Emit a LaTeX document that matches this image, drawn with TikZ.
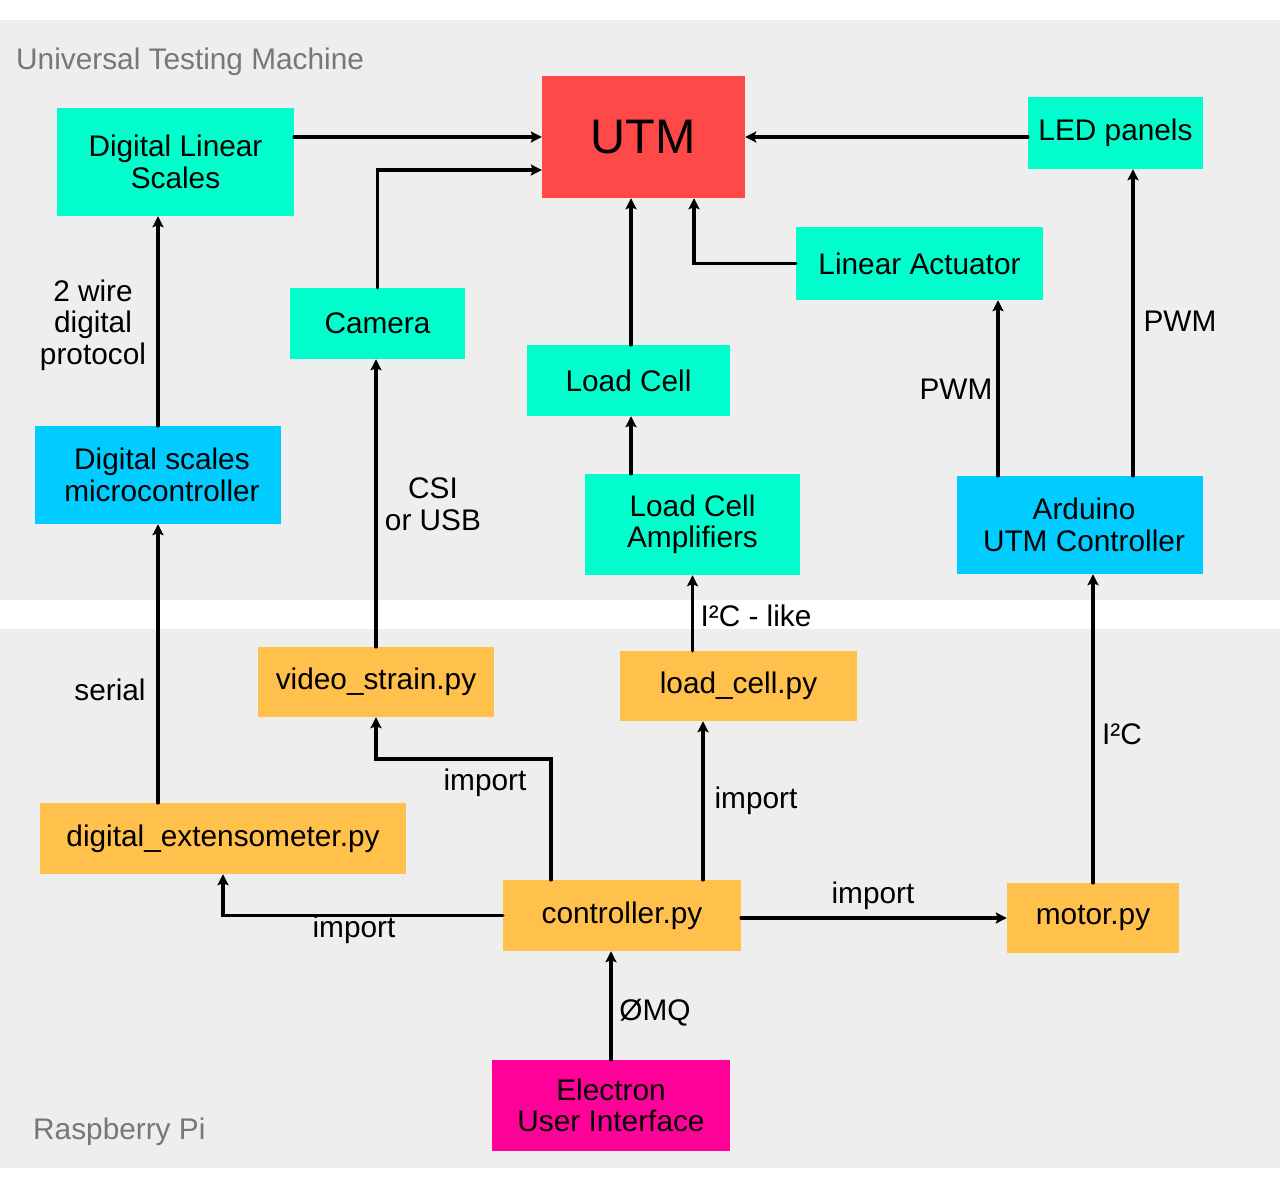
\documentclass[tikz,border=0pt]{standalone}
\usepackage{fontspec}
\setmainfont{Liberation Sans}
\usetikzlibrary{arrows.meta}
\definecolor{panel}{HTML}{EEEEEE}
\definecolor{cgreen}{HTML}{00FFCC}
\definecolor{cblue}{HTML}{00CCFF}
\definecolor{corange}{HTML}{FFC04C}
\definecolor{cred}{HTML}{FF4848}
\definecolor{cmag}{HTML}{FF0099}
\definecolor{cgray}{HTML}{777777}
\tikzset{
  box/.style={inner sep=0pt, align=center, font=\fontsize{29.8}{31.5}\selectfont},
  gbox/.style={box, fill=cgreen},
  bbox/.style={box, fill=cblue},
  obox/.style={box, fill=corange},
  arr/.style={line width=3.5pt, -{Stealth[length=11pt,width=11pt,inset=2pt]}, line cap=round},
  lbl/.style={inner sep=0pt, align=center, font=\fontsize{29.8}{31.5}\selectfont},
  ttl/.style={inner sep=0pt, anchor=base west, text=cgray, font=\fontsize{29.8}{31.5}\selectfont}
}
\begin{document}
\begin{tikzpicture}[x=1pt,y=-1pt]
\useasboundingbox (0,0) rectangle (1280,1200);
\fill[white] (0,0) rectangle (1280,1200);
\fill[panel] (0,20) rectangle (1280,600);
\fill[panel] (0,629) rectangle (1280,1168);
\node[ttl] (t1) at (16,69) {Universal Testing Machine};
\node[ttl] (t2) at (33,1139) {Raspberry Pi};

\node[box, fill=cred, minimum width=203pt, minimum height=122pt, font=\fontsize{48.5}{50}\selectfont] (utm) at (643.5,137) {UTM};
\node[gbox, minimum width=237pt, minimum height=108pt] (dls) at (175.5,162) {Digital Linear\\Scales};
\node[gbox, minimum width=175pt, minimum height=72pt] (led) at (1115.5,133) {LED panels};
\node[gbox, minimum width=247pt, minimum height=73pt] (la) at (919.5,263.5) {Linear Actuator};
\node[gbox, minimum width=175pt, minimum height=71pt] (cam) at (377.5,323.5) {Camera};
\node[gbox, minimum width=203pt, minimum height=71pt] (lc) at (628.5,380.5) {Load Cell};
\node[bbox, minimum width=246pt, minimum height=98pt] (dsm) at (158,475) {\hspace*{8pt}Digital scales\\\hspace*{8pt}microcontroller};
\node[gbox, minimum width=215pt, minimum height=101pt] (lca) at (692.5,524.5) {Load Cell\\Amplifiers};
\node[bbox, minimum width=246pt, minimum height=98pt] (ard) at (1080,525) {\hspace*{8pt}Arduino\\\hspace*{8pt}UTM Controller};
\node[obox, minimum width=236pt, minimum height=70pt] (vid) at (376,682) {video\_strain.py};
\node[obox, minimum width=237pt, minimum height=70pt] (lcpy) at (738.5,686) {load\_cell.py};
\node[obox, minimum width=366pt, minimum height=71pt] (dext) at (223,838.5) {digital\_extensometer.py};
\node[obox, minimum width=238pt, minimum height=71pt] (ctrl) at (622,915.5) {controller.py};
\node[obox, minimum width=172pt, minimum height=70pt] (mot) at (1093,918) {motor.py};
\node[box, fill=cmag, minimum width=238pt, minimum height=91pt] (el) at (611,1105.5) {Electron\\User Interface};

% connectors
\draw[arr] (dls.east |- utm.west) -- (utm.west);
\draw[arr] (cam.north) |- ([yshift=-33pt]utm.west);
\draw[arr] (led.west |- utm.east) -- (utm.east);
\draw[arr] ([xshift=2.5pt]lc.north) -- ([xshift=2.5pt]lc.north |- utm.south);
\draw[arr] (la.west) -| ([xshift=50.5pt]utm.south);
\draw[arr] (dsm.north) -- (dsm.north |- dls.south);
\draw[arr] ([xshift=-82pt]ard.north) -- ([xshift=-82pt]ard.north |- la.south);
\draw[arr] ([xshift=53pt]ard.north) -- ([xshift=53pt]ard.north |- led.south);
\draw[arr] ([xshift=2.5pt]lc.south |- lca.north) -- ([xshift=2.5pt]lc.south);
\draw[arr] (lca.south |- lcpy.north) -- (lca.south);
\draw[arr] (vid.north) -- (vid.north |- cam.south);
\draw[arr] (dsm.south |- dext.north) -- (dsm.south);
\draw[arr] ([xshift=-71pt]ctrl.north) -- ([xshift=-71pt]ctrl.north |- 0,759) -| (vid.south);
\draw[arr] ([xshift=81pt]ctrl.north) -- ([xshift=81pt]ctrl.north |- lcpy.south);
\draw[arr] (ctrl.west) -| (dext.south);
\draw[arr] (ctrl.east |- mot.west) -- (mot.west);
\draw[arr] (mot.north) -- (mot.north |- ard.south);
\draw[arr] (el.north) -- (el.north |- ctrl.south);

% labels
\node[lbl] (l1) at (93,325) {2 wire\\digital\\protocol};
\node[lbl] (l2) at (956,389) {PWM};
\node[lbl] (l3) at (1180,321) {PWM};
\node[lbl] (l4) at (756,616) {I²C - like};
\node[lbl] (l5) at (433,504) {CSI\\or USB};
\node[lbl] (l6) at (110,690) {serial};
\node[lbl] (l7) at (485,783) {import};
\node[lbl] (l8) at (756,801) {import};
\node[lbl] (l9) at (354,930) {import};
\node[lbl] (l10) at (873,896) {import};
\node[lbl] (l11) at (1122,734) {I²C};
\node[lbl] (l12) at (655,1013) {ØMQ};
\end{tikzpicture}
\end{document}
